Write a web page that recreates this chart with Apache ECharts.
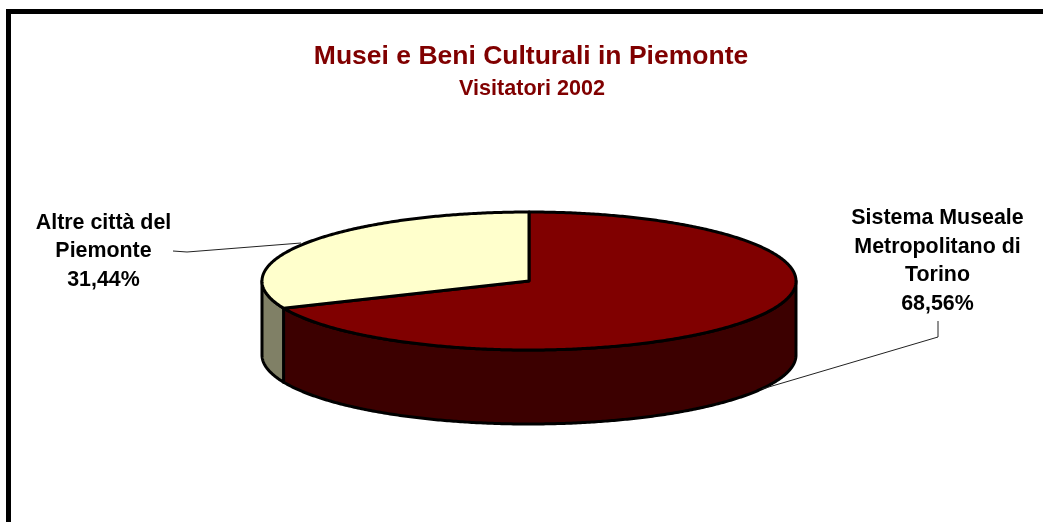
<!DOCTYPE html>
<html lang="it">
<head>
    <meta charset="UTF-8">
    <title>Musei e Beni Culturali in Piemonte</title>
    <script src="https://cdn.jsdelivr.net/npm/echarts@6/dist/echarts.min.js"></script>
    <style>
        html, body { margin: 0; padding: 0; background: #fff; }
        #chart { width: 1043px; height: 522px; }
    </style>
</head>
<body>
    <div id="chart"></div>
    <script>
    // dati
    const categories = ['Sistema Museale\nMetropolitano di\nTorino', 'Altre città del\nPiemonte'];
    const values = [68.56, 31.44];

    const topColors = ['#800000', '#ffffcc'];
    const wallColors = ['#3c0000', '#808066'];
    const labelPos = [[937.5, 261], [103.5, 251.5]];
    const leaders = [
        [[938, 321], [938, 337], [762, 389]],
        [[173, 251], [187, 252], [301, 243]]
    ];

    // torta "3D": ellisse schiacciata, angolo 0 in alto, senso orario
    const cx = 529, cy = 281, rx = 267, ry = 69, depth = 74;
    const total = values.reduce((a, b) => a + b, 0);

    function pt(deg, dy) {
        const r = deg * Math.PI / 180;
        return [cx + rx * Math.sin(r), cy - ry * Math.cos(r) + (dy || 0)];
    }
    function arc(from, to, dy) {
        const pts = [];
        const n = Math.max(2, Math.ceil(Math.abs(to - from) * 2));
        for (let i = 0; i <= n; i++) pts.push(pt(from + (to - from) * i / n, dy));
        return pts;
    }
    function sliceAngles(i) {
        const before = values.slice(0, i).reduce((a, b) => a + b, 0);
        return [before / total * 360, (before + values[i]) / total * 360];
    }
    const outline = { stroke: '#000', lineWidth: 3, lineJoin: 'round' };

    function renderWall(params) {
        const i = params.dataIndex;
        const [a, b] = sliceAngles(i);
        const from = Math.max(a, 90), to = Math.min(b, 270);
        if (to <= from) return null;
        const points = arc(from, to, 0).concat(arc(to, from, depth));
        return {
            type: 'polygon',
            shape: { points },
            style: Object.assign({ fill: wallColors[i] }, outline)
        };
    }

    function renderTop(params) {
        const i = params.dataIndex;
        const [a, b] = sliceAngles(i);
        const percent = values[i].toFixed(2).replace('.', ',') + '%';
        return {
            type: 'group',
            children: [
                {
                    type: 'polyline',
                    shape: { points: leaders[i] },
                    style: { stroke: '#222', lineWidth: 1, fill: null }
                },
                {
                    type: 'polygon',
                    shape: { points: [[cx, cy]].concat(arc(a, b, 0)) },
                    style: Object.assign({ fill: topColors[i] }, outline)
                },
                {
                    type: 'text',
                    style: {
                        text: categories[i] + '\n' + percent,
                        x: labelPos[i][0],
                        y: labelPos[i][1],
                        align: 'center',
                        verticalAlign: 'middle',
                        font: 'bold 21.4px "Liberation Sans", Arial, sans-serif',
                        lineHeight: 28.7,
                        fill: '#000'
                    }
                }
            ]
        };
    }

    const chart = echarts.init(document.getElementById('chart'));
    chart.setOption({
        animation: false,
        backgroundColor: '#fff',
        title: [
            {
                text: 'Musei e Beni Culturali in Piemonte',
                left: 526, top: 38, textAlign: 'center',
                textStyle: { color: '#800000', fontFamily: 'Liberation Sans', fontWeight: 'bold', fontSize: 26.5 }
            },
            {
                text: 'Visitatori 2002',
                left: 527, top: 73, textAlign: 'center',
                textStyle: { color: '#800000', fontFamily: 'Liberation Sans', fontWeight: 'bold', fontSize: 21.6 }
            }
        ],
        graphic: [{
            type: 'polyline',
            shape: { points: [[8.5, 522], [8.5, 11.5], [1043, 11.5]] },
            style: { stroke: '#000', lineWidth: 5, fill: null }
        }],
        series: [
            { type: 'custom', coordinateSystem: 'none', silent: true, data: values, renderItem: renderWall },
            { type: 'custom', coordinateSystem: 'none', silent: true, data: values, renderItem: renderTop }
        ]
    });
    </script>
</body>
</html>
